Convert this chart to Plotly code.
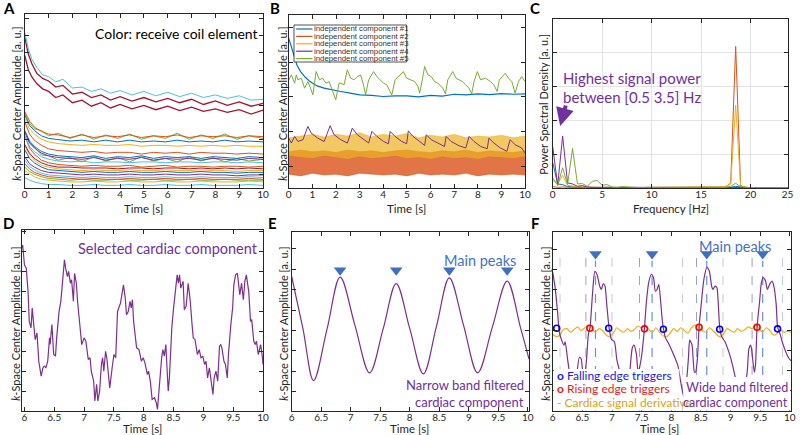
import plotly.graph_objects as go

W, H = 800, 435
def px(x): return x / W
def py(y): return 1 - y / H

FONT = "Lato"
AXC = "#262626"
BLUE, ORANGE, YELLOW, PURPLE, GREEN, CYAN, DRED = "#0072BD", "#D95319", "#EDB120", "#7E2F8E", "#77AC30", "#4DBEEE", "#A2142F"
PTXT = "#7030A0"
BTXT = "#4472C4"

# ---------------- Panel A: coil signals ----------------
a_t_top = [0, 0.15, 0.3, 0.5, 0.75, 1.0, 1.3, 1.6, 2.0, 2.4, 2.8, 3.2, 3.6, 4.0, 4.5, 5.0, 5.5, 6.0, 6.5, 7.0, 7.5, 8.0, 8.5, 9.0, 9.5, 10.0]
a_top_cyan = [89.5, 80, 74, 69.5, 65, 64, 61, 62.5, 57.5, 58, 55.5, 57, 54.5, 56, 53.5, 55.5, 53, 55, 52.5, 54.5, 52, 53.5, 51.5, 53, 50.5, 51]
a_top_red1 = [86.7, 77, 71.4, 66, 63, 61.5, 58, 59, 54, 55, 52, 53.5, 50.5, 52.5, 50, 52, 49.5, 51.5, 49, 51, 48, 50, 47.5, 49.5, 47, 48.6]
a_top_red2 = [76.2, 68, 63.8, 60, 57, 55.5, 52, 53.5, 49, 50.5, 47, 49, 46, 48, 45.5, 47.5, 45, 47, 44.5, 46.5, 44, 45.5, 43.5, 45, 42.5, 44.8]

a_t_low = [0, 0.2, 0.4, 0.7, 1.0, 1.4, 1.9, 2.4, 2.9, 3.4, 3.9, 4.4, 4.9, 5.4, 5.9, 6.4, 6.9, 7.4, 7.9, 8.4, 8.9, 9.4, 10.0]
a_c01 = [44, 38.5, 35, 32.5, 31, 30.5, 29, 30.5, 29, 30, 29.5, 30.5, 29, 30, 29.5, 30.5, 29, 30, 29.5, 30, 29, 30, 29.5]
a_c02 = [43, 37, 34, 33, 30, 31.5, 28.5, 31, 28, 30.5, 28.5, 31, 28, 30, 28.5, 31.5, 28, 30.5, 28.5, 31, 28, 30, 28.5]
a_c03 = [42, 36, 33, 30, 28.5, 28, 27, 27.5, 26.5, 27.5, 26.5, 27.5, 26.5, 27, 26.5, 27.5, 26.5, 27, 26.5, 27.5, 26.5, 27, 26.5]
a_c04 = [40, 34, 31, 28, 26.5, 25.5, 25, 24.5, 25, 24.5, 24.5, 25, 24, 24.5, 24.5, 24, 24.5, 24, 24.5, 24, 24.5, 24, 24]
a_c05 = [38, 31, 27.5, 24.5, 22.5, 21.5, 21, 20.5, 21, 20, 20.5, 20.5, 19.5, 20.5, 20, 20.5, 19.5, 20.5, 20, 20, 19.5, 20, 19.5]
a_c06 = [33, 27, 24, 21, 19.5, 18.5, 18, 17.5, 18.5, 17, 18, 17.5, 18.5, 17, 18, 17.5, 18, 17, 18, 17.5, 17, 18, 17.5]
a_c07 = [32, 26, 23, 20, 18.5, 17.5, 17, 16.5, 17.5, 16, 17, 16.5, 17.5, 16, 17, 16.5, 17, 16, 17, 16.5, 16, 17, 16.5]
a_c08 = [33, 26, 23.5, 19, 18.5, 16, 17.5, 15, 18, 15.5, 17.5, 15, 18, 15.5, 17, 15, 18, 15.5, 17.5, 15, 17, 15.5, 16.5]
a_c09 = [30, 24, 21, 18, 16.5, 15.5, 15, 15.5, 14.5, 15, 15, 14.5, 15, 15, 14.5, 15, 15, 14.5, 15, 15, 14.5, 15, 14.5]
a_c10 = [30, 23, 19.5, 16, 14.5, 13.5, 13, 12.5, 13, 12.5, 12.5, 13, 12, 12.5, 13, 12, 12.5, 12.5, 12, 12.5, 12.5, 12, 12.5]
a_c11 = [25, 20, 17, 14.5, 13, 12, 12, 11.5, 11.5, 11.5, 11, 11.5, 11.5, 11, 11.5, 11.5, 11, 11.5, 11, 11.5, 11, 11.5, 11]
a_c12 = [24, 19, 16, 13, 12, 11, 10.5, 10, 10.5, 10, 10, 10.5, 10, 10, 10.5, 10, 10, 10.5, 10, 10, 9.5, 10, 10]
a_c13 = [22, 17, 14.5, 12, 10.5, 10, 9.5, 9, 9.5, 9, 9, 9.5, 9, 9, 9.5, 9, 9, 9.5, 9, 9, 8.5, 9, 9]
a_c14 = [18, 14, 12, 10, 9, 8.5, 8, 7.5, 8, 7.5, 7.5, 8, 7.5, 7.5, 8, 7.5, 7.5, 8, 7.5, 7.5, 7, 7.5, 7.5]
a_c15 = [16, 12.5, 10.5, 8.5, 7.5, 7, 6.5, 6, 6.5, 6, 6, 6.5, 6, 6, 6.5, 6, 6, 6.5, 6, 6, 6, 6.5, 6]
a_c16 = [14, 11, 9, 7.5, 6.5, 6, 5.5, 5, 5.5, 5, 5, 5.5, 5, 5, 5.5, 5, 5, 5.5, 5, 5, 5, 5.5, 5]
a_c17 = [12, 9.5, 8, 6.5, 5.5, 5, 4.5, 5, 4.5, 4.5, 5, 4.5, 4.5, 5, 4.5, 4.5, 5, 4.5, 4.5, 5, 4.5, 4.5, 4.5]
a_c18 = [10, 8, 6.5, 5, 4.5, 4, 3.5, 3.5, 4, 3.5, 3.5, 4, 3.5, 3.5, 4, 3.5, 3.5, 4, 3.5, 3.5, 3.5, 4, 3.5]
a_c19 = [6, 4.5, 3.5, 2.5, 2, 2, 1.5, 1.5, 2, 1.5, 1.5, 2, 1.5, 1.5, 2, 1.5, 1.5, 2, 1.5, 1.5, 1.5, 2, 1.5]
a_low = [(a_c01, ORANGE), (a_c02, GREEN), (a_c03, BLUE), (a_c04, YELLOW), (a_c05, ORANGE),
         (a_c06, BLUE), (a_c07, PURPLE), (a_c08, GREEN), (a_c09, CYAN), (a_c10, ORANGE),
         (a_c11, DRED), (a_c12, YELLOW), (a_c13, BLUE), (a_c14, PURPLE), (a_c15, CYAN),
         (a_c16, ORANGE), (a_c17, GREEN), (a_c18, YELLOW), (a_c19, CYAN)]

# ---------------- Panel B: independent components ----------------
b_t1 = [0, 0.1, 0.2, 0.35, 0.5, 0.7, 0.9, 1.2, 1.5, 1.8, 2.2, 2.6, 3.0, 3.5, 4.0, 4.5, 5.0, 5.5, 6.0, 6.5, 7.0, 7.5, 8.0, 8.5, 9.0, 9.5, 10.0]
b_ic1 = [86.5, 81.7, 77, 71, 67.3, 64, 61.5, 59, 57.7, 56.7, 55.8, 54.8, 53.8, 53.5, 52.9, 53.3, 53.3, 52.7, 53.5, 53.1, 54.2, 53.8, 54.4, 54, 54.6, 54.2, 54.4]
b_t_band = [0, 0.5, 1.0, 1.5, 2.0, 2.5, 3.0, 3.5, 4.0, 4.5, 5.0, 5.5, 6.0, 6.5, 7.0, 7.5, 8.0, 8.5, 9.0, 9.5, 10.0]
b_ic2_hi = [21, 22, 21, 21.5, 20.5, 22, 21, 21.5, 20.5, 21.5, 22, 21, 20.5, 21.5, 21, 22, 20.5, 21.5, 21, 20.5, 21.5]
b_ic2_lo = [8, 7, 8.5, 7.5, 8, 7, 8.5, 8, 7.5, 8, 7, 8.5, 7.5, 8, 7.5, 8.5, 7, 8, 7.5, 8, 7.5]
b_ic3_hi = [29, 30, 31, 29.5, 31, 30, 32, 29.5, 31, 30, 31.5, 29, 30.5, 29.5, 31, 29, 30, 29.5, 30.5, 29, 30]
b_ic3_lo = [19, 18, 17.5, 19, 18, 17, 18.5, 17.5, 18, 19, 17.5, 18, 17, 18.5, 17.5, 18, 17, 18.5, 18, 17.5, 18.5]
b_t4 = [0, 0.11, 0.25, 0.39, 0.6, 0.81, 0.95, 1.23, 1.5, 1.75, 1.92, 2.2, 2.48, 2.69, 2.9, 3.18, 3.38, 3.52, 3.73, 4.01,
        4.22, 4.29, 4.5, 4.78, 4.99, 5.06, 5.26, 5.54, 5.75, 5.82, 6.03, 6.31, 6.59, 6.66, 6.87, 7.21, 7.49, 7.63, 7.84, 8.12,
        8.4, 8.47, 8.68, 8.96, 9.23, 9.37, 9.58, 9.86, 10.0]
b_ic4 = [28.8, 26, 29.8, 26.9, 27.9, 35.6, 31.7, 28.8, 26.9, 36, 30.8, 27.9, 26, 34.6, 30.8, 27.9, 26, 32.7, 29.8, 26.9,
         25.6, 32.7, 29.8, 26.9, 25.6, 33, 29.8, 26.9, 24.6, 30.8, 27.9, 26, 24, 29.8, 26.9, 24.4, 23.1, 29.8, 26.9, 24,
         22.7, 28.8, 26, 23.1, 21.2, 27.9, 25, 23.1, 20.2]
b_t5 = [0, 0.11, 0.25, 0.32, 0.39, 0.53, 0.67, 0.81, 0.95, 1.02,
        1.16, 1.30, 1.43, 1.57, 1.71, 1.85, 1.99, 2.13, 2.20, 2.34,
        2.48, 2.62, 2.76, 2.90, 3.04, 3.18, 3.25, 3.38, 3.59, 3.73,
        3.87, 4.01, 4.15, 4.36, 4.50, 4.71, 4.85, 4.99, 5.13, 5.33,
        5.47, 5.54, 5.65, 5.75, 5.89, 6.03, 6.17, 6.31, 6.52, 6.63,
        6.73, 6.94, 7.08, 7.21, 7.35, 7.49, 7.63, 7.74, 7.84, 7.98,
        8.12, 8.33, 8.54, 8.68, 8.82, 8.91, 9.16, 9.30, 9.44, 9.58,
        9.72, 9.86, 10.0]
b_ic5 = [62.5, 65.4, 60.6, 65.4, 62.5, 63.5, 57.7, 61.5, 56.7, 53.8,
         67.3, 62.5, 63.5, 60.6, 61.5, 56.7, 51.0, 60.6, 60.6, 59.6,
         68.3, 63.5, 62.5, 64.4, 65.4, 58.7, 53.8, 62.5, 67.3, 64.4,
         62.5, 60.6, 59.6, 53.8, 62.5, 65.4, 67.3, 63.5, 62.5, 61.5,
         58.7, 54.8, 62.5, 70.2, 65.4, 64.4, 61.5, 60.6, 57.7, 54.4,
         62.5, 67.3, 63.5, 62.5, 61.5, 59.6, 57.7, 54.4, 61.5, 67.3,
         62.5, 63.5, 61.5, 59.6, 55.8, 62.5, 66.3, 63.5, 61.5, 54.8,
         61.5, 64.4, 61.5]
b_names = ["independent component #1", "independent component #2", "independent component #3",
           "independent component #4", "independent component #5"]

# ---------------- Panel C: power spectral density ----------------
c_f = [0, 0.5, 1.0, 1.5, 2.0, 2.5, 3.0, 3.5, 4.0, 4.5, 5.0, 5.5, 6.0, 6.5, 7.0, 7.5, 8.0, 8.5, 9.0, 9.5,
       10.0, 10.5, 11.0, 11.5, 12.0, 12.5, 13.0, 13.5, 14.0, 14.5, 15.0, 15.5, 16.0, 16.5, 17.0, 17.5, 18.0, 18.5, 19.0, 19.5,
       20.0, 20.5, 21.0, 21.5, 22.0, 22.5, 23.0, 23.5, 24.0, 24.5, 25.0]
c_ic1 = [0.75, 0.12, 0.10, 0.04, 0.05, 0.03, 0.02, 0.02, 0.01, 0.02,
         0.01, 0.02, 0.01, 0.01, 0.02, 0.01, 0.01, 0.01, 0.01, 0.01,
         0.01, 0.01, 0.01, 0.01, 0.01, 0.01, 0.01, 0.01, 0.01, 0.01,
         0.01, 0.01, 0.02, 0.01, 0.01, 0.01, 0.02, 0.05, 0.02, 0.01,
         0.01, 0.01, 0.01, 0.01, 0.01, 0.01, 0.01, 0.01, 0.01, 0.01, 0.01]
c_ic2 = [0.04, 0.02, 0.03, 0.02, 0.02, 0.01, 0.02, 0.01, 0.01, 0.01,
         0.01, 0.01, 0.01, 0.01, 0.02, 0.02, 0.01, 0.01, 0.01, 0.01,
         0.01, 0.01, 0.01, 0.01, 0.01, 0.01, 0.01, 0.01, 0.01, 0.01,
         0.01, 0.01, 0.02, 0.01, 0.02, 0.03, 0.15, 4.19, 0.06, 0.02,
         0.01, 0.02, 0.01, 0.01, 0.01, 0.01, 0.01, 0.01, 0.01, 0.01, 0.01]
c_ic3 = [0.22, 0.12, 0.38, 0.08, 0.05, 0.04, 0.03, 0.02, 0.02, 0.02,
         0.02, 0.01, 0.01, 0.01, 0.01, 0.01, 0.01, 0.01, 0.01, 0.01,
         0.01, 0.01, 0.01, 0.01, 0.01, 0.01, 0.01, 0.01, 0.01, 0.01,
         0.01, 0.01, 0.02, 0.02, 0.03, 0.05, 0.12, 2.45, 0.08, 0.02,
         0.01, 0.01, 0.01, 0.01, 0.01, 0.01, 0.01, 0.01, 0.01, 0.01, 0.01]
c_ic4 = [1.22, 0.08, 1.54, 0.15, 0.12, 0.05, 0.07, 0.03, 0.02, 0.02,
         0.02, 0.02, 0.01, 0.01, 0.02, 0.02, 0.01, 0.01, 0.01, 0.01,
         0.01, 0.01, 0.01, 0.01, 0.01, 0.01, 0.01, 0.01, 0.01, 0.01,
         0.01, 0.01, 0.01, 0.01, 0.01, 0.01, 0.01, 0.02, 0.01, 0.01,
         0.01, 0.01, 0.01, 0.01, 0.01, 0.01, 0.01, 0.01, 0.01, 0.01, 0.01]
c_ic5 = [0.30, 0.08, 0.60, 0.10, 1.17, 0.12, 0.13, 0.05, 0.20, 0.22,
         0.08, 0.10, 0.03, 0.02, 0.04, 0.03, 0.02, 0.02, 0.01, 0.02,
         0.02, 0.01, 0.02, 0.01, 0.01, 0.01, 0.01, 0.01, 0.01, 0.01,
         0.01, 0.01, 0.03, 0.02, 0.01, 0.02, 0.05, 0.14, 0.04, 0.02,
         0.01, 0.01, 0.02, 0.01, 0.01, 0.01, 0.01, 0.01, 0.01, 0.01, 0.01]
c_xticks = [0, 5, 10, 15, 20, 23.75]
c_xticktext = ["0", "5", "10", "15", "20", "25"]

# ---------------- Panel D: selected cardiac component ----------------
d_pts = [(5.96, 90), (5.97, 91.7), (6.00, 80.7), (6.03, 78.9), (6.06, 66), (6.08, 49.5), (6.11, 45.9), (6.13, 56.9),
         (6.15, 49.5), (6.18, 39.4), (6.21, 43.1), (6.24, 27.5), (6.28, 19.3), (6.31, 23.9), (6.33, 24.8), (6.36, 23.9),
         (6.39, 27.5), (6.42, 40.4), (6.43, 36.7), (6.46, 47.7), (6.49, 31.2), (6.52, 30.3), (6.54, 40.4), (6.58, 55),
         (6.61, 60.6), (6.67, 83.5), (6.69, 78.9), (6.72, 74.3), (6.74, 77.1), (6.77, 70.6), (6.79, 72.5), (6.82, 60.6),
         (6.84, 76.1), (6.87, 70.6), (6.89, 60.6), (6.92, 51.4), (6.96, 36.7), (7.00, 40.4), (7.03, 38.5), (7.07, 28.4),
         (7.10, 29.4), (7.12, 22), (7.16, 16.5), (7.18, 5.5), (7.21, 14.7), (7.23, 5.5), (7.26, 11), (7.29, 25.7),
         (7.31, 29.4), (7.33, 22), (7.36, 33), (7.38, 29.4), (7.40, 22), (7.43, 12.8), (7.47, 23.9), (7.50, 31.2),
         (7.53, 29.4), (7.56, 55), (7.61, 59.6), (7.66, 69.7), (7.69, 62.4), (7.71, 53.2), (7.74, 55), (7.77, 60.6),
         (7.79, 56.9), (7.81, 61.5), (7.83, 49.5), (7.88, 34.9), (7.92, 33.9), (7.96, 27.5), (7.99, 29.4), (8.02, 26.6),
         (8.06, 20.2), (8.08, 22), (8.11, 16.5), (8.14, 6.4), (8.18, 7.3), (8.21, 4.6), (8.23, 0.9), (8.26, 14.7),
         (8.28, 25.7), (8.30, 29.4), (8.32, 33.9), (8.345, 30.3), (8.37, 36.7), (8.39, 23.9), (8.41, 11), (8.43, 18.3),
         (8.47, 45.9), (8.50, 56.9), (8.53, 66.1), (8.56, 75.2), (8.58, 70.6), (8.60, 75.2), (8.62, 67.9), (8.66, 71.6),
         (8.68, 56), (8.71, 57.8), (8.745, 70.6), (8.78, 60.6), (8.81, 47.7), (8.83, 40.4), (8.86, 39.4), (8.90, 31.2),
         (8.93, 33.9), (8.96, 29.4), (8.99, 30.3), (9.02, 25.7), (9.045, 27.5), (9.07, 18.3), (9.10, 23.9), (9.13, 16.5),
         (9.16, 9.2), (9.18, 18.3), (9.21, 22), (9.24, 16.5), (9.27, 35.8), (9.29, 36.7), (9.31, 34.9), (9.345, 27.5),
         (9.37, 25.7), (9.40, 18.3), (9.42, 31.2), (9.46, 47.7), (9.49, 56.9), (9.51, 69.7), (9.54, 75.2), (9.57, 76.1),
         (9.59, 68.8), (9.61, 64.2), (9.64, 70.6), (9.67, 61.5), (9.695, 71.6), (9.72, 75.2), (9.76, 66.1), (9.79, 49.5),
         (9.81, 50.5), (9.845, 38.5), (9.87, 36.7), (9.89, 38.5), (9.92, 31.2), (9.96, 36.7), (9.99, 29.4), (10.0, 25.7)]

# ---------------- Panel E: narrow band filtered ----------------
e_pts = [(6.00, 75), (6.19, 46), (6.37, 17), (6.60, 46), (6.82, 74.8), (7.07, 48), (7.32, 21.3), (7.55, 46),
         (7.77, 71.2), (8.00, 46), (8.23, 20.7), (8.45, 47), (8.67, 74.4), (8.91, 48), (9.15, 21.3), (9.40, 47),
         (9.65, 72.5), (9.88, 46), (10.02, 29)]
e_peak_t = [6.82, 7.77, 8.67, 9.65]
e_peak_v = [78.6, 78.6, 78.6, 78.6]

# ---------------- Panel F: wide band filtered + triggers ----------------
f_pts = [(6.00, 77.4), (6.04, 68.9), (6.08, 55.7), (6.11, 44.3), (6.15, 39.6), (6.19, 36.8), (6.21, 38.7), (6.25, 29),
         (6.29, 19.8), (6.32, 14), (6.36, 6), (6.39, 12), (6.41, 21.7), (6.45, 30), (6.48, 29), (6.51, 21.7), (6.54, 21),
         (6.57, 29), (6.60, 42.5), (6.63, 47), (6.67, 65), (6.71, 78), (6.75, 76), (6.79, 70), (6.82, 68), (6.85, 71),
         (6.88, 70), (6.91, 60), (6.95, 46.5), (6.99, 40), (7.04, 38.7), (7.08, 29), (7.13, 21.7), (7.17, 12), (7.22, 5),
         (7.27, 12), (7.30, 21.7), (7.34, 34.9), (7.37, 36.8), (7.41, 32), (7.44, 21.7), (7.46, 23.6), (7.50, 31),
         (7.547, 46.2), (7.58, 61), (7.62, 72), (7.665, 76.4), (7.70, 74.5), (7.73, 67), (7.76, 67.9), (7.79, 70.8),
         (7.82, 61.3), (7.85, 50), (7.87, 45.7), (7.90, 41), (7.95, 38), (8.02, 33), (8.11, 25.5), (8.16, 16), (8.21, 8),
         (8.26, 18), (8.29, 30), (8.31, 39.6), (8.35, 36.8), (8.39, 21.7), (8.41, 21.7), (8.44, 29), (8.469, 46.8),
         (8.51, 61.3), (8.55, 73.6), (8.60, 80.2), (8.64, 78.3), (8.68, 69.8), (8.70, 67.9), (8.74, 69.8), (8.77, 68.9),
         (8.79, 61.3), (8.816, 47), (8.85, 41.5), (8.905, 38.7), (8.97, 33), (9.02, 27.4), (9.06, 21.7), (9.10, 16),
         (9.16, 8), (9.22, 10), (9.28, 21.7), (9.31, 34.9), (9.34, 36.8), (9.36, 33), (9.40, 21.7), (9.42, 25.5),
         (9.447, 46.8), (9.49, 61.3), (9.52, 71.7), (9.55, 74.5), (9.59, 72.6), (9.62, 67.9), (9.66, 70.8), (9.70, 72.6),
         (9.73, 69.8), (9.77, 59.4), (9.793, 47), (9.84, 42.5), (9.88, 37.7), (9.92, 34), (9.97, 30.2), (10.02, 28)]
f_der_t = [6.00, 6.06, 6.12, 6.18, 6.24, 6.30, 6.36, 6.42, 6.48, 6.54,
           6.60, 6.66, 6.72, 6.78, 6.84, 6.90, 6.96, 7.02, 7.08, 7.14,
           7.20, 7.26, 7.32, 7.38, 7.44, 7.50, 7.56, 7.62, 7.68, 7.74,
           7.80, 7.86, 7.92, 7.98, 8.04, 8.10, 8.16, 8.22, 8.28, 8.34,
           8.40, 8.46, 8.52, 8.58, 8.64, 8.70, 8.76, 8.82, 8.88, 8.94,
           9.00, 9.06, 9.12, 9.18, 9.24, 9.30, 9.36, 9.42, 9.48, 9.54,
           9.60, 9.66, 9.72, 9.78, 9.84, 9.90, 9.96, 10.02]
f_der_v = [43, 41.5, 42.5, 45.5, 46, 44, 45.5, 47, 45, 46.5,
           48, 46, 44, 46, 45, 42.5, 41.5, 43.5, 46.5, 45,
           44, 46, 44.5, 45.5, 47.5, 46.5, 48, 45.5, 44, 46.5,
           44, 42, 41.5, 43.5, 46, 44.5, 46.5, 45, 43.5, 46.5,
           48, 47, 45, 44, 46.5, 45, 43, 41.5, 43, 46,
           45, 44, 46, 44.5, 45.5, 47, 46, 48, 46, 44,
           46.5, 45, 42.5, 43, 45.5, 44, 44.5, 44]
f_fall_t = [6.067, 6.944, 7.866, 8.816, 9.793]
f_fall_v = [46.2, 46.2, 45.7, 45.7, 45.9]
f_rise_t = [6.626, 7.547, 8.469, 9.447]
f_rise_v = [46.2, 45.9, 46.8, 46.8]
f_peak_t = [6.721, 7.676, 8.598, 9.542]
f_peak_v = [87.7, 87.7, 87.7, 87.7]
f_line_pre = [6.559, 7.464, 8.425, 9.363]
f_line_post = [6.123, 7.0, 8.19, 8.872, 9.877]

# ================= figure =================
fig = go.Figure()

def add(x, y, ax, color, width=1.0, **kw):
    fig.add_trace(go.Scatter(x=x, y=y, mode="lines", xaxis="x" + ax, yaxis="y" + ax,
                             line=dict(color=color, width=width, **kw.pop("line", {})),
                             showlegend=False, hoverinfo="skip", **kw))

# A
for vals, col in a_low[::-1]:
    add(a_t_low, vals, "", col, 1.0)
add(a_t_top, a_top_red2, "", DRED, 1.3)
add(a_t_top, a_top_red1, "", DRED, 1.3)
add(a_t_top, a_top_cyan, "", CYAN, 1.0)

# B
add(b_t1, b_ic1, "2", BLUE, 1.2)
add(b_t_band, b_ic2_hi, "2", ORANGE, 0.5)
add(b_t_band, b_ic2_lo, "2", ORANGE, 0.5, fill="tonexty", fillcolor="rgba(217,83,25,0.8)")
add(b_t_band, b_ic3_hi, "2", YELLOW, 0.5)
add(b_t_band, b_ic3_lo, "2", YELLOW, 0.5, fill="tonexty", fillcolor="rgba(237,177,32,0.7)")
add(b_t4, b_ic4, "2", PURPLE, 1.0)
add(b_t5, b_ic5, "2", GREEN, 1.0)

# C
for vals, col in [(c_ic1, BLUE), (c_ic2, ORANGE), (c_ic3, YELLOW), (c_ic4, PURPLE), (c_ic5, GREEN)]:
    add(c_f, vals, "3", col, 1.0)

# D
add([p[0] for p in d_pts], [p[1] for p in d_pts], "4", PURPLE, 1.2)

# E
add([p[0] for p in e_pts], [p[1] for p in e_pts], "5", PURPLE, 1.2, line=dict(shape="spline", smoothing=1.0))
fig.add_trace(go.Scatter(x=e_peak_t, y=e_peak_v, mode="markers", xaxis="x5", yaxis="y5",
                         marker=dict(symbol="triangle-down", size=11, color="#3F6FBF"),
                         showlegend=False, hoverinfo="skip"))

# F
def vl(ts, y0, y1):
    xs, ys = [], []
    for t in ts:
        xs += [t, t, None]
        ys += [y0, y1, None]
    return xs, ys

xs, ys = vl(f_line_post, 0, 90)
add(xs, ys, "6", "#B8BCCB", 0.8, line=dict(dash="dash"))
xs, ys = vl(f_line_pre, 0, 90)
add(xs, ys, "6", "#7D89BE", 0.8, line=dict(dash="dash"))
xs, ys = vl(f_peak_t, 0, 84)
add(xs, ys, "6", "#6B8FDA", 1.2, line=dict(dash="dash"))
add(f_der_t, f_der_v, "6", YELLOW, 1.2, line=dict(shape="spline", smoothing=0.8))
add([p[0] for p in f_pts], [p[1] for p in f_pts], "6", PURPLE, 1.2, line=dict(shape="spline", smoothing=0.6))
fig.add_trace(go.Scatter(x=f_fall_t, y=f_fall_v, mode="markers", xaxis="x6", yaxis="y6",
                         marker=dict(symbol="circle-open", size=6, color="#0000FF", line=dict(width=1.6)),
                         showlegend=False, hoverinfo="skip"))
fig.add_trace(go.Scatter(x=f_rise_t, y=f_rise_v, mode="markers", xaxis="x6", yaxis="y6",
                         marker=dict(symbol="circle-open", size=6, color="#FF0000", line=dict(width=1.6)),
                         showlegend=False, hoverinfo="skip"))
fig.add_trace(go.Scatter(x=f_peak_t, y=f_peak_v, mode="markers", xaxis="x6", yaxis="y6",
                         marker=dict(symbol="triangle-down", size=11, color="#3F6FBF"),
                         showlegend=False, hoverinfo="skip"))

# ---------------- axes ----------------
TICKFONT = dict(family=FONT, size=10, color=AXC)
def xax(dom, rng, anchor, **kw):
    d = dict(domain=dom, range=rng, anchor=anchor, showline=True, linecolor=AXC, linewidth=1, mirror="ticks",
             ticks="inside", ticklen=4, tickcolor=AXC, showgrid=False, zeroline=False, tickfont=TICKFONT,
             ticklabelstandoff=-3)
    d.update(kw)
    return d
def yax(dom, rng, anchor, **kw):
    d = dict(domain=dom, range=rng, anchor=anchor, showline=True, linecolor=AXC, linewidth=1, mirror="ticks",
             ticks="inside", ticklen=4, tickcolor=AXC, showgrid=False, zeroline=False, showticklabels=False)
    d.update(kw)
    return d

top_y0, top_y1 = py(188), py(14)
bot_y0, bot_y1 = py(411), py(232)
fig.update_layout(
    xaxis=xax([px(22), px(263)], [0, 10], "y", dtick=1, tick0=0),
    yaxis=yax([top_y0, top_y1], [0, 100], "x", tick0=7.6, dtick=10),
    xaxis2=xax([px(289), px(528)], [0, 10], "y2", dtick=1, tick0=0),
    yaxis2=yax([top_y0, py(15)], [0, 100], "x2", tick0=12.7, dtick=20),
    xaxis3=xax([px(556), px(794)], [0, 23.8], "y3", tickvals=c_xticks, ticktext=c_xticktext,
               showgrid=True, gridcolor="#E3E3E3"),
    yaxis3=yax([top_y0, py(19)], [0, 5], "x3", dtick=1, tick0=0, showgrid=True, gridcolor="#E3E3E3"),
    xaxis4=xax([px(19), px(263)], [5.955, 10], "y4", dtick=0.5, tick0=6),
    yaxis4=yax([bot_y0, py(230)], [0, 100], "x4", tick0=0, dtick=11),
    xaxis5=xax([px(292), px(532)], [6, 10.02], "y5", dtick=0.5, tick0=6),
    yaxis5=yax([bot_y0, bot_y1], [0, 100], "x5", tick0=10.8, dtick=11.4),
    xaxis6=xax([px(556), px(797)], [6, 10.02], "y6", dtick=0.5, tick0=6),
    yaxis6=yax([bot_y0, bot_y1], [0, 100], "x6", tick0=0, dtick=11.3),
)

# ---------------- annotations ----------------
ann = []
def text(x, y, s, size=11.5, color=AXC, xanchor="center", yanchor="middle", angle=0, family=FONT, **kw):
    if xanchor == "left":
        x -= 3
    elif xanchor == "right":
        x += 3
    ann.append(dict(x=px(x), y=py(y), xref="paper", yref="paper", text=s, showarrow=False,
                    xanchor=xanchor, yanchor=yanchor, textangle=angle,
                    font=dict(family=family, size=size, color=color), **kw))

for lab, x, y in [("A", 6, 8), ("B", 275, 8), ("C", 538, 8), ("D", 6, 223), ("E", 273, 223), ("F", 539, 223)]:
    text(x, y, "<b>%s</b>" % lab, size=15, color="#000000")

YT = "<i>k</i>-Space Center Amplitude [a. u.]"
text(13, 104, YT, size=11, angle=-90)
text(282, 104, YT, size=11, angle=-90)
text(546, 104, "Power Spectral Density [a. u.]", size=11, angle=-90)
text(12, 324, YT, size=11, angle=-90)
text(283, 324, YT, size=11, angle=-90)
text(548, 324, YT, size=11, angle=-90)

text(142.5, 208, "Time [s]")
text(408.5, 208, "Time [s]")
text(676, 208, "Frequency [Hz]")
text(141, 428, "Time [s]")
text(411, 428, "Time [s]")
text(664, 428, "Time [s]")

text(257, 33, "Color: receive coil element", size=14, color="#000000", xanchor="right")
text(567, 78, "Highest signal power", size=15, color=PTXT, xanchor="left")
text(567, 97, "between [0.5 3.5] Hz", size=15, color=PTXT, xanchor="left")
ann.append(dict(x=px(563.5), y=py(126), xref="paper", yref="paper", ax=6, ay=-22, text="", showarrow=True,
                arrowhead=2, arrowsize=0.9, arrowwidth=4, arrowcolor=PTXT, standoff=0))
text(257, 248, "Selected cardiac component", size=14.5, color=PTXT, xanchor="right")

text(482, 260, "Main peaks", size=14.5, color=BTXT)
text(526, 385, "Narrow band filtered", size=13, color=PTXT, xanchor="right")
text(526, 402, "cardiac component", size=13, color=PTXT, xanchor="right")

text(740, 247, "Main peaks", size=14.5, color=BTXT)
text(561, 375, "<b>o</b> Falling edge triggers", size=12, color="#1A1AE6", xanchor="left")
text(561, 388.5, "<b>o</b> Rising edge triggers", size=12, color="#E61A1A", xanchor="left")
text(561, 402, "- Cardiac signal derivative", size=12, color="#D9A21B", xanchor="left")
text(793, 387, "Wide band filtered", size=12.5, color=PTXT, xanchor="right")
text(793, 402, "cardiac component", size=12.5, color=PTXT, xanchor="right")

# B legend entries
b_leg_cols = [BLUE, ORANGE, YELLOW, PURPLE, GREEN]
b_leg_y = [29, 36.4, 43.8, 51.2, 58.6]
shapes = []
shapes.append(dict(type="rect", xref="paper", yref="paper", x0=px(294.3), x1=px(408.3), y0=py(62), y1=py(25),
                   line=dict(color=AXC, width=0.8), fillcolor="white", layer="above"))
for nm, col, yy in zip(b_names, b_leg_cols, b_leg_y):
    shapes.append(dict(type="line", xref="paper", yref="paper", x0=px(296.5), x1=px(313), y0=py(yy), y1=py(yy),
                       line=dict(color=col, width=1.2), layer="above"))
    text(315.5, yy, nm, size=7.8, color="#333333", xanchor="left", family="Liberation Sans")

# white backgrounds behind F texts
shapes.append(dict(type="rect", xref="paper", yref="paper", x0=px(557), x1=px(684), y0=py(410.5), y1=py(369),
                   line=dict(width=0), fillcolor="white", layer="above"))
shapes.append(dict(type="rect", xref="paper", yref="paper", x0=px(688), x1=px(796), y0=py(410.5), y1=py(377),
                   line=dict(width=0), fillcolor="white", layer="above"))

fig.update_layout(
    width=W, height=H, margin=dict(l=0, r=0, t=0, b=0),
    paper_bgcolor="white", plot_bgcolor="white",
    font=dict(family=FONT, size=11, color=AXC),
    showlegend=False, annotations=ann, shapes=shapes,
)

fig.write_html("out.html", config={"displayModeBar": False},
               post_script="document.body.style.margin='0px';document.body.style.overflow='hidden';")
